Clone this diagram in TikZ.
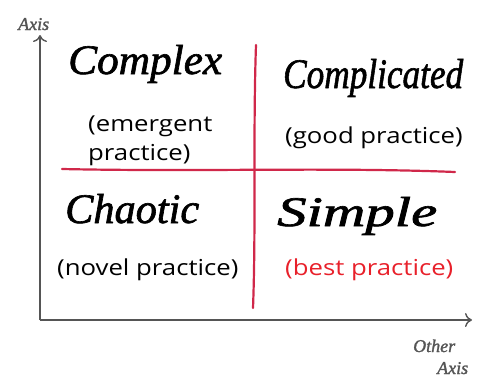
\documentclass[tikz,border=0pt]{standalone}
\usepackage{fontspec}
\setmainfont[FakeStretch=1.17]{Open Sans}
\newfontfamily\handfont[FakeBold=1.5]{Liberation Serif}
\usetikzlibrary{arrows.meta}
\definecolor{axisgray}{HTML}{555555}
\definecolor{divider}{HTML}{D0284A}
\definecolor{bestred}{HTML}{E8202A}
% handwritten word stretched to a given width
\newcommand\handword[2]{\resizebox{#1}{\height}{#2}}
\begin{document}
\begin{tikzpicture}[x=1pt,y=-1pt,
  axis/.style={draw=axisgray,line width=1.4pt,-{To[length=7pt,width=14pt]}},
  divline/.style={draw=divider,line width=2.2pt,line cap=round},
  quadname/.style={font=\handfont\itshape\fontsize{42}{42}\selectfont,inner sep=0pt,anchor=base west},
  practice/.style={font=\fontsize{22}{29}\selectfont,inner sep=0pt,align=left,anchor=base west},
  axislabel/.style={font=\handfont\itshape\fontsize{18}{18}\selectfont,inner sep=0pt,text=axisgray,anchor=base west}]
\useasboundingbox (0,0) rectangle (496,378);
% axes
\coordinate (origin) at (40,320);
\coordinate (ytip) at (40,35);
\coordinate (xtip) at (472,320);
\draw[axis] (origin) -- (ytip);
\draw[axis] (origin) -- (xtip);
\node[axislabel] (ylab) at (18,30) {Axis};
\node[axislabel] (xlab1) at (413,352) {Other};
\node[axislabel] (xlab2) at (437,374) {Axis};
% dividing lines
\coordinate (hl) at (62,169);
\coordinate (hr) at (455,172);
\coordinate (vt) at (256,45);
\coordinate (vb) at (253,308);
\draw[divline] (hl) .. controls (200,172) and (330,167) .. (hr);
\draw[divline] (vt) .. controls (253,130) and (256,230) .. (vb);
% quadrants
\node[quadname] (complex) at (68,74) {\handword{154pt}{Complex}};
\node[practice] (complexp) at (88,160) {(emergent\\practice)};
\node[quadname] (complicated) at (283,88) {\handword{180pt}{Complicated}};
\node[practice] (complicatedp) at (285,143) {(good practice)};
\node[quadname] (chaotic) at (65,223) {\handword{134pt}{Chaotic}};
\node[practice] (chaoticp) at (57,275) {(novel practice)};
\node[quadname] (simple) at (277,226) {\handword{160pt}{Simple}};
\node[practice,text=bestred] (simplep) at (285,275) {(best practice)};
\end{tikzpicture}
\end{document}
